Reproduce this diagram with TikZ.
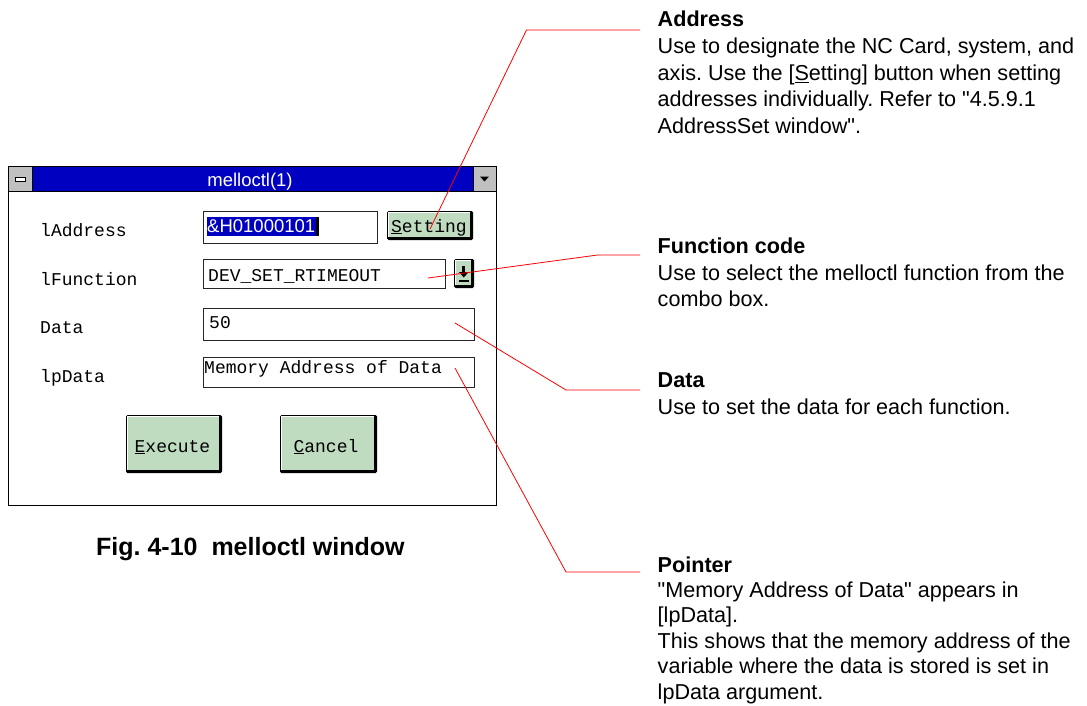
\documentclass[tikz,border=0pt]{standalone}
\usepackage{fontspec}
\setmainfont{Liberation Sans}[Ligatures=TeXOff]
\newfontfamily\monof{Liberation Mono}
\definecolor{titleblue}{RGB}{0,0,192}
\definecolor{wingray}{RGB}{192,192,192}
\definecolor{btngreen}{RGB}{192,220,192}
\newcommand\dlgbutton[4]{%
  \fill[black, rounded corners=1.5pt] (#1,#2) rectangle (#3,#4);
  \fill[btngreen] (#1+1.2,#2+1.2) rectangle (#3-3,#4-3);
  \draw[white, line width=1pt] (#1+1.8,#4-3.5) -- (#1+1.8,#2+1.8) -- (#3-3.5,#2+1.8);
}
\frenchspacing
\begin{document}
\begin{tikzpicture}[x=1pt,y=-1pt,
  leader/.style={draw=red, line width=0.8pt},
  fieldbox/.style={draw=black!85, fill=white, line width=0.9pt},
  monolabel/.style={font=\monof\fontsize{18}{20}\selectfont, inner sep=0pt, anchor=base west},
  monobtn/.style={font=\monof\fontsize{18}{20}\selectfont, inner sep=0pt, anchor=base},
  desc/.style={font=\frenchspacing\fontsize{21.6}{26.7}\selectfont, align=left, anchor=north west, inner sep=0pt},
  desctight/.style={desc, font=\frenchspacing\fontsize{21.6}{25.4}\selectfont},
  caption/.style={font=\bfseries\fontsize{25}{30}\selectfont, inner sep=0pt, anchor=base west}]
\useasboundingbox (0,0) rectangle (1087,706);
% window frame
\draw[fill=white, line width=1pt] (8,167) rectangle (496,505);
\fill[titleblue] (8,167) rectangle (496,191);
\draw[line width=1pt] (8,191) -- (496,191);
\draw[fill=wingray, line width=1pt] (8,167) rectangle (32,191);
\draw[fill=white, line width=0.9pt] (15.5,177) rectangle (25,181);
\draw[fill=wingray, line width=1pt] (473,167) rectangle (496,191);
\fill[black] (480,176.5) -- (489,176.5) -- (484.5,181.5) -- cycle;
\node[font=\fontsize{18.5}{20}\selectfont, text=white, inner sep=0pt, anchor=base] (title) at (250,186) {melloctl(1)};
% labels
\node[monolabel] (lAddr) at (40,236) {lAddress};
\node[monolabel] (lFunc) at (40,285) {lFunction};
\node[monolabel] (lData) at (40,333) {Data};
\node[monolabel] (lpData) at (40,382) {lpData};
% fields
\draw[fieldbox] (203,211) rectangle (377,243);
\fill[titleblue] (207,217) rectangle (316,236);
\fill[black] (316,217) rectangle (319,236);
\node[font=\fontsize{18.5}{20}\selectfont, text=white, inner sep=0pt, anchor=base west] (addrVal) at (207,232) {\&H01000101};
\draw[fieldbox] (203,259) rectangle (445,288);
\node[monolabel] (funcVal) at (208,281) {DEV\_SET\_RTIMEOUT};
\draw[fieldbox] (203,308) rectangle (474,340);
\node[monolabel] (dataVal) at (209,328) {50};
\draw[fieldbox] (203,357) rectangle (474,387);
\node[monolabel] (ptrVal) at (204,373) {Memory Address of Data};
% buttons
\dlgbutton{387}{211}{473}{240}
\node[monobtn] (setting) at (429,232) {\underline{S}etting};
\dlgbutton{454}{259}{474}{288}
\fill[black] (462.3,266) rectangle (465.3,272);
\fill[black] (459,272) -- (468.6,272) -- (463.8,277.5) -- cycle;
\fill[black] (458.5,280) rectangle (469,281.5);
\dlgbutton{126}{415}{222}{473}
\node[monobtn] (execute) at (172.5,452) {\underline{E}xecute};
\dlgbutton{280}{415}{377}{473}
\node[monobtn] (cancel) at (326,452) {\underline{C}ancel};
% caption
\node[caption] (cap) at (96,555) {Fig. 4-10\ \ melloctl window};
% descriptions
\node[desc] (addrText) at (657.5,11.0) {\textbf{Address}\\Use to designate the NC Card, system, and\\axis. Use the [\underline{S}etting] button when setting\\addresses individually. Refer to "4.5.9.1\\AddressSet window".};
\node[desc] (funcText) at (657.5,237.6) {\textbf{Function code}\\Use to select the melloctl function from the\\combo box.};
\node[desc] (dataText) at (657.5,372.8) {\textbf{Data}\\Use to set the data for each function.};
\node[desctight] (ptrText) at (657.5,556.3) {\textbf{Pointer}\\"Memory Address of Data" appears in\\{}[lpData].\\This shows that the memory address of the\\variable where the data is stored is set in\\lpData argument.};
% leaders
\coordinate (settingTip) at (430,229);
\coordinate (addrKnee) at (526.5,30);
\coordinate (addrEnd) at (640,30);
\coordinate (funcTip) at (428,278);
\coordinate (funcKnee) at (597.5,255);
\coordinate (funcEnd) at (640,255);
\coordinate (dataTip) at (455,323);
\coordinate (dataKnee) at (566,390);
\coordinate (dataEnd) at (640,390);
\coordinate (ptrTip) at (455,368);
\coordinate (ptrKnee) at (566,572);
\coordinate (ptrEnd) at (640,572);
\draw[leader] (settingTip) -- (addrKnee) -- (addrEnd);
\draw[leader] (funcTip) -- (funcKnee) -- (funcEnd);
\draw[leader] (dataTip) -- (dataKnee) -- (dataEnd);
\draw[leader] (ptrTip) -- (ptrKnee) -- (ptrEnd);
\end{tikzpicture}
\end{document}
